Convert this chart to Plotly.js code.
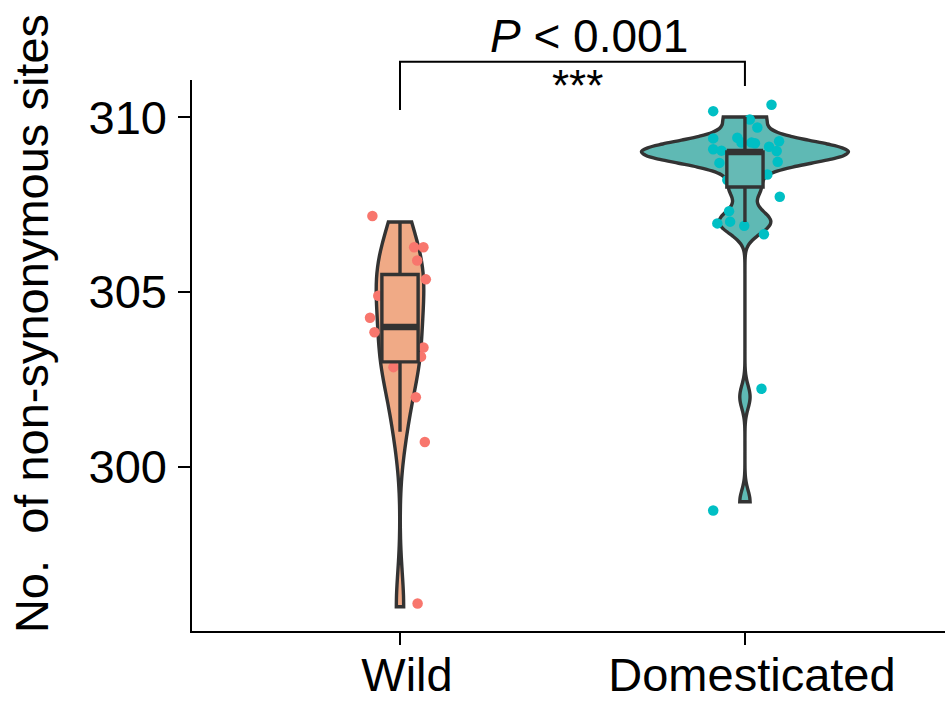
<!DOCTYPE html>
<html>
<head>
<meta charset="utf-8">
<script src="https://cdn.plot.ly/plotly-3.0.1.min.js"></script>
<style>
  html, body { margin: 0; padding: 0; background: #ffffff; }
  #chart { width: 945px; height: 702px; }
</style>
</head>
<body>
<div id="chart"></div>
<script>
// ---------------- data ----------------
const categories = ['Wild', 'Domesticated'];

// integer counts per sample (used for violin density)
const wildValues = [296, 301, 302, 303, 303, 303, 304, 304, 305, 305, 305, 306, 306, 306, 307];
const domValues = [299, 302,
  307, 307, 307, 307, 307,
  308, 308, 308,
  309, 309, 309, 309, 309, 309, 309, 309, 309, 309,
  309, 309, 309, 309, 309, 309, 309, 309, 309, 309,
  310, 310, 310, 310];

// jittered point positions as drawn (offset from category, jittered value)
const wildJitterX = [-0.080, 0.041, 0.068, 0.050, 0.075, -0.063, 0.015, -0.087, -0.074, 0.068, 0.061, -0.019, 0.046, 0.072, 0.051];
const wildJitterY = [307.17, 306.28, 306.28, 305.90, 305.36, 304.89, 305.10, 304.26, 303.85, 303.41, 303.15, 302.85, 301.99, 300.71, 296.09];

const domJitterX = [-0.092, 0.077, 0.014, 0.036,
  -0.092, -0.022, 0.019, 0.099, 0.070, -0.092, -0.068, 0.092, -0.074, 0.095, -0.010, 0.029,
  -0.030, 0.010, 0.035, -0.015, 0.025, -0.035, 0.000, 0.020,
  -0.051, 0.065, 0.101,
  -0.046, -0.080, -0.043, -0.002, 0.055,
  0.048, -0.092];
const domJitterY = [310.17, 310.35, 309.93, 309.70,
  309.39, 309.41, 309.27, 309.31, 309.15, 309.08, 309.04, 309.03, 308.69, 308.72, 309.27, 309.25,
  308.90, 308.75, 308.62, 308.80, 308.88, 308.70, 308.66, 308.93,
  308.20, 308.36, 307.72,
  307.31, 306.96, 307.01, 306.89, 306.65,
  302.23, 298.75];

// box statistics (R type-7 quartiles)
const boxQ1 = [303, 308];
const boxMedian = [304, 309];
const boxQ3 = [305.5, 309];
const boxLower = [301, 307];
const boxUpper = [307, 310];

const yTicks = [300, 305, 310];
const yTitle = 'No.\u00A0 of non-synonymous sites';
const pLabel = '<i>P</i> &lt; 0.001';
const sigLabel = '***';

// ---------------- styles ----------------
const violinFill = ['#F0AA86', '#5FB9B4'];
const boxFill = ['#F0AA86', '#66BAB5'];
const pointColor = ['#F8766D', '#00BFC4'];
const violinWidth = [0.138, 0.60];
const violinBw = [0.98, 0.33];
const boxWidth = 0.105;
const outline = '#333333';
const font = 'Liberation Sans, Arial, Helvetica, sans-serif';

const xRange = [-0.603, 1.580];
const yRange = [295.306, 311.06];

const valueSets = [wildValues, domValues];
const jx = [wildJitterX, domJitterX];
const jy = [wildJitterY, domJitterY];

const traces = [];
categories.forEach((c, i) => {
  traces.push({
    type: 'violin', xaxis: 'x', yaxis: 'y',
    y: valueSets[i], x0: i, name: c,
    width: violinWidth[i], bandwidth: violinBw[i],
    spanmode: 'hard', scalemode: 'width', side: 'both',
    points: false, box: {visible: false}, meanline: {visible: false},
    fillcolor: violinFill[i], line: {color: outline, width: 3.4},
    hoverinfo: 'skip', showlegend: false
  });
});
categories.forEach((c, i) => {
  traces.push({
    type: 'scatter', mode: 'markers', xaxis: 'x2', yaxis: 'y',
    x: jx[i].map(d => i + d), y: jy[i],
    marker: {color: pointColor[i], size: 10.5, line: {width: 0}},
    hoverinfo: 'skip', showlegend: false
  });
});
categories.forEach((c, i) => {
  traces.push({
    type: 'box', xaxis: 'x3', yaxis: 'y',
    x: [i], q1: [boxQ1[i]], median: [boxMedian[i]], q3: [boxQ3[i]],
    lowerfence: [boxLower[i]], upperfence: [boxUpper[i]],
    width: boxWidth, boxpoints: false, whiskerwidth: 0,
    fillcolor: boxFill[i], line: {color: outline, width: 3.4},
    hoverinfo: 'skip', showlegend: false
  });
  traces.push({
    type: 'scatter', mode: 'lines', xaxis: 'x3', yaxis: 'y',
    x: [i - boxWidth / 2, i + boxWidth / 2], y: [boxMedian[i], boxMedian[i]],
    line: {color: outline, width: 6.5}, hoverinfo: 'skip', showlegend: false
  });
});

const px = v => (v - xRange[0]) / (xRange[1] - xRange[0]);

const layout = {
  width: 945, height: 702,
  margin: {l: 192, r: 0, t: 80, b: 71, pad: 0},
  paper_bgcolor: '#ffffff', plot_bgcolor: '#ffffff',
  font: {family: font, color: '#000000', size: 46},
  showlegend: false,
  violinmode: 'overlay', boxmode: 'overlay',
  xaxis: {
    range: xRange, tickmode: 'array', tickvals: [0, 1], ticktext: categories,
    showgrid: false, zeroline: false, showline: true, linecolor: '#000000', linewidth: 1.6,
    ticks: 'outside', ticklen: 12, tickwidth: 1.6, tickcolor: '#000000',
    ticklabelstandoff: -10, ticklabelshift: 7,
    tickfont: {size: 47, family: font, color: '#000000'}
  },
  xaxis2: {range: xRange, overlaying: 'x', visible: false},
  xaxis3: {range: xRange, overlaying: 'x', visible: false},
  yaxis: {
    range: yRange, tickmode: 'array', tickvals: yTicks, ticktext: yTicks.map(String),
    showgrid: false, zeroline: false, showline: true, linecolor: '#000000', linewidth: 1.6,
    ticks: 'outside', ticklen: 12, tickwidth: 1.6, tickcolor: '#000000',
    ticklabelstandoff: 2,
    tickfont: {size: 47, family: font, color: '#000000'}
  },
  shapes: [{
    type: 'path', xref: 'paper', yref: 'paper',
    path: `M ${px(0)} 0.9456 L ${px(0)} 1.0332 L ${px(1)} 1.0332 L ${px(1)} 0.989`,
    line: {color: '#000000', width: 2}
  }],
  annotations: [
    {text: pLabel, xref: 'paper', yref: 'paper', x: 0.5266, y: 1.079,
     xanchor: 'center', yanchor: 'middle', showarrow: false,
     font: {size: 46, family: font, color: '#000000'}},
    {text: sigLabel, xref: 'paper', yref: 'paper', x: 0.5126, y: 0.990,
     xanchor: 'center', yanchor: 'middle', showarrow: false,
     font: {size: 44, family: font, color: '#000000'}},
    {text: yTitle, xref: 'paper', yref: 'paper', x: -0.2138, y: 0.557,
     xanchor: 'center', yanchor: 'middle', textangle: -90, showarrow: false,
     font: {size: 47, family: font, color: '#000000'}}
  ]
};

Plotly.newPlot('chart', traces, layout, {displayModeBar: false, staticPlot: true});
</script>
</body>
</html>
